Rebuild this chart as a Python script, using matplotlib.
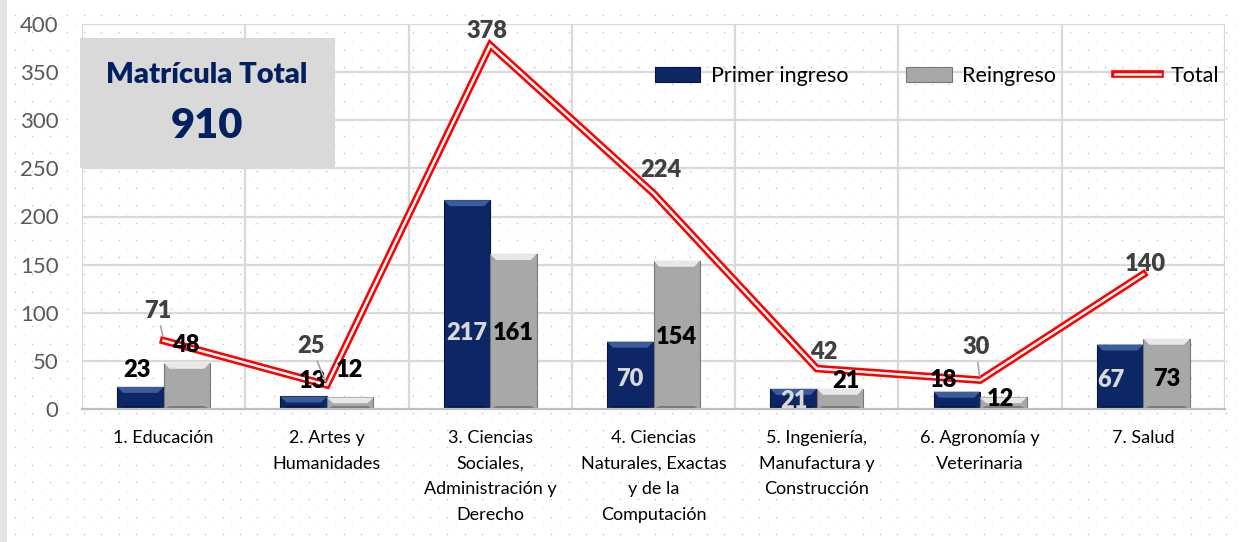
import numpy as np
import matplotlib
matplotlib.use("Agg")
import matplotlib.pyplot as plt
from matplotlib.patches import Rectangle, Polygon
from matplotlib.lines import Line2D

# ---- data ----
categories = [
    "1. Educación",
    "2. Artes y\nHumanidades",
    "3. Ciencias\nSociales,\nAdministración y\nDerecho",
    "4. Ciencias\nNaturales, Exactas\ny de la\nComputación",
    "5. Ingeniería,\nManufactura y\nConstrucción",
    "6. Agronomía y\nVeterinaria",
    "7. Salud",
]
primer_ingreso = [23, 13, 217, 70, 21, 18, 67]
reingreso = [48, 12, 161, 154, 21, 12, 73]
total = [71, 25, 378, 224, 42, 30, 140]
matricula_total = 910

# ---- style ----
NAVY = "#0c2666"
NAVY_LIGHT = "#3d5c9e"
NAVY_DARK = "#06163d"
GRAY = "#a8a8a8"
GRAY_LIGHT = "#e8e8e8"
GRAY_DARK = "#777777"
GRID = "#d9d9d9"
FONT = ["Lato", "DejaVu Sans"]

# label offsets in pixels (dx, dy) from bar top / line point
primer_off = [(-3, 17), (9, 15.5), (0, -133), (0, -37), (0, -12), (-13, 12), (-9, -35)]
primer_col = ["black", "black", "#d9d9d9", "#d9d9d9", "#d9d9d9", "black", "#d9d9d9"]
reing_off = [(-1, 18), (-1, 27.5), (0, -79), (0, -76), (6, 8), (-3, -1.5), (0, -40)]
total_off = [(-6, 30), (-16, 39), (-3, 14), (7, 23), (7, 17), (-4, 33), (2, 10)]
leader = [True, True, False, False, False, True, False]

plt.rcParams["font.family"] = FONT

W, H = 1243, 542
fig = plt.figure(figsize=(W / 100, H / 100), dpi=100)

# background dotted texture
bg = fig.add_axes([0, 0, 1, 1], zorder=-5)
bg.set_xlim(0, W)
bg.set_ylim(H, 0)
bg.axis("off")
gx, gy = np.meshgrid(np.arange(15, W, 17.3), np.arange(15, H, 17.3))
bg.scatter(gx.ravel(), gy.ravel(), s=1.3, color="#c4c4c4", lw=0)
gx2, gy2 = np.meshgrid(np.arange(23.6, W, 17.3), np.arange(23.6, H, 17.3))
bg.scatter(gx2.ravel(), gy2.ravel(), s=0.8, color="#e2e2e2", lw=0)
bg.add_patch(Rectangle((0, 0), 7, H, color="#e4e4e4", lw=0))

left, right, top, bottom = 82, 1225, 24, 409
ax = fig.add_axes([left / W, 1 - bottom / H, (right - left) / W, (bottom - top) / H])
ax.set_facecolor("none")

n = len(categories)
x = np.arange(n)
bw = 0.285
px_per_unit = (bottom - top) / 400.0

ax.set_xlim(-0.5, n - 0.5)
ax.set_ylim(0, 400)
ax.set_yticks(np.arange(0, 401, 50))
ax.set_xticks(x)
ax.set_xticklabels(categories, fontsize=13, linespacing=1.75)
ax.tick_params(axis="y", length=0, labelsize=16, labelcolor="#595959", pad=17)
ax.tick_params(axis="x", length=0, pad=15)
for s in ["top", "right", "left"]:
    ax.spines[s].set_visible(False)
ax.spines["bottom"].set_color("#bfbfbf")
ax.spines["bottom"].set_linewidth(1.6)
for yv in np.arange(50, 401, 50):
    ax.axhline(yv, color=GRID, lw=1.6, zorder=0)
for xv in np.arange(-0.5, n, 1.0):
    ax.axvline(xv, color=GRID, lw=1.6, zorder=0)


def bevel_bars(xs, vals, face, light, dark):
    bars = ax.bar(xs, vals, bw, color=face, edgecolor=dark, lw=0.8, zorder=2)
    dx = 6 / 163.3
    for b in bars:
        x0, x1 = b.get_x(), b.get_x() + b.get_width()
        h = b.get_height()
        dy = min(6 / px_per_unit, h / 2)
        ax.add_patch(Polygon([(x0, h), (x1, h), (x1 - dx, h - dy), (x0 + dx, h - dy)],
                             closed=True, color=light, lw=0, zorder=2.1))
        ax.add_patch(Polygon([(x0, 0), (x1, 0), (x1 - dx, dy * 0.5), (x0 + dx, dy * 0.5)],
                             closed=True, color=dark, lw=0, zorder=2.1))
    return bars


bars1 = bevel_bars(x - bw / 2, primer_ingreso, NAVY, NAVY_LIGHT, NAVY_DARK)
bars2 = bevel_bars(x + bw / 2, reingreso, GRAY, GRAY_LIGHT, GRAY_DARK)

ax.plot(x, total, color="#ff0000", lw=5.5, zorder=3, solid_joinstyle="miter")
ax.plot(x, total, color="white", lw=1.8, zorder=3.1, solid_joinstyle="miter")

pt = 0.72
lab = dict(textcoords="offset points", ha="center", va="center",
           fontsize=17, fontweight="heavy", zorder=5)
for b, v, (ox, oy), c in zip(bars1, primer_ingreso, primer_off, primer_col):
    ax.annotate(str(v), (b.get_x() + b.get_width() / 2, v), xytext=(ox * pt, oy * pt),
                color=c, **lab)
for b, v, (ox, oy) in zip(bars2, reingreso, reing_off):
    ax.annotate(str(v), (b.get_x() + b.get_width() / 2, v), xytext=(ox * pt, oy * pt),
                color="black", **lab)
for xi, v, (ox, oy), ld in zip(x, total, total_off, leader):
    ax.annotate(str(v), (xi, v), xytext=(ox * pt, oy * pt), color="#404040",
                arrowprops=dict(arrowstyle="-", color="#a6a6a6", lw=1.2,
                                shrinkA=1, shrinkB=3) if ld else None, **lab)

# title box (on top of the plot area)
ov = fig.add_axes([0, 0, 1, 1], zorder=10)
ov.set_xlim(0, W)
ov.set_ylim(H, 0)
ov.axis("off")
ov.add_patch(Rectangle((80, 38), 255, 130, color="#d9d9d9", lw=0))
ov.text(207, 75, "Matrícula Total", ha="center", va="center", fontsize=21,
        fontweight="heavy", color="#002060")
ov.text(207, 126, str(matricula_total), ha="center", va="center", fontsize=30,
        fontweight="heavy", color="#002060")

handles = [
    Rectangle((0, 0), 1, 1, facecolor=NAVY, edgecolor=NAVY_DARK, lw=0.8),
    Rectangle((0, 0), 1, 1, facecolor=GRAY, edgecolor=GRAY_DARK, lw=0.8),
    (Line2D([], [], color="#ff0000", lw=5.5), Line2D([], [], color="white", lw=1.8)),
]
fig.legend(handles, ["Primer ingreso", "Reingreso", "Total"], loc="center right",
           bbox_to_anchor=(1219 / W, 1 - 76 / H), ncol=3, frameon=False, fontsize=15.5,
           handlelength=2.1, handleheight=0.7, handletextpad=0.5, columnspacing=2.7,
           borderaxespad=0, borderpad=0)

fig.savefig("out.png", dpi=100)
